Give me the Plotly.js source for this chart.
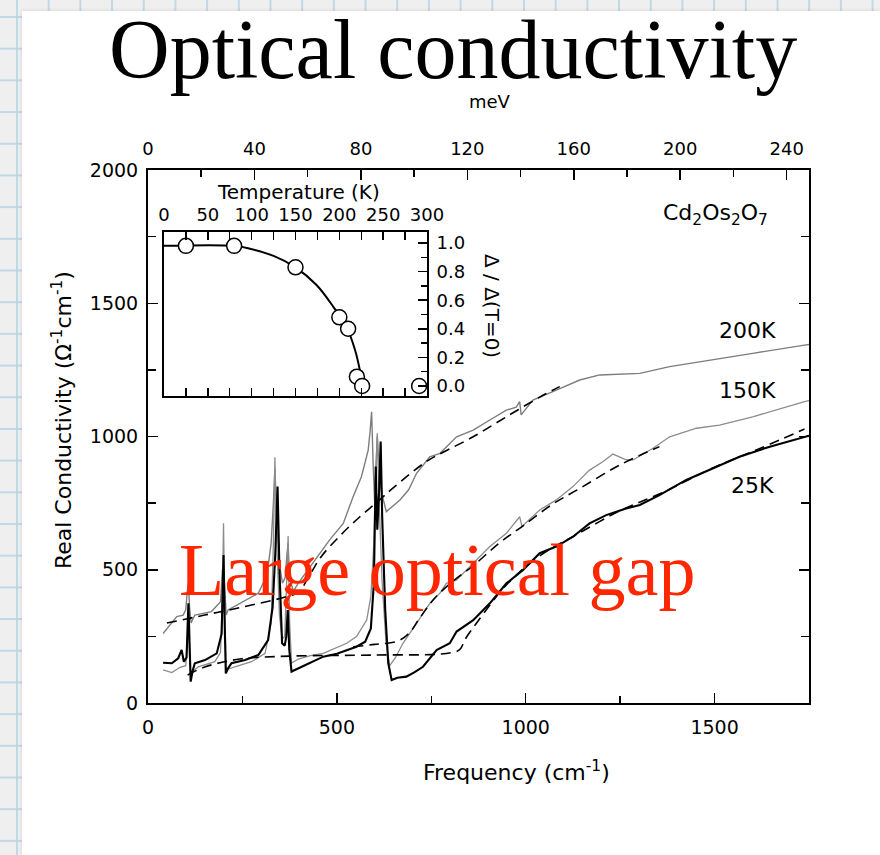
<!DOCTYPE html>
<html><head><meta charset="utf-8">
<script src="https://cdn.plot.ly/plotly-3.0.1.min.js"></script>
<style>
html,body{margin:0;padding:0;width:880px;height:855px;overflow:hidden;}
body{background-color:#efefef;
background-image:linear-gradient(to right, rgba(185,212,228,0.85) 2px, transparent 2px),linear-gradient(to bottom, rgba(185,212,228,0.85) 2px, transparent 2px);
background-size:31.7px 31.7px;background-position:16px 16px;}
#card{position:absolute;left:22px;top:11px;width:858px;height:844px;background:#fff;box-shadow:0 0 4px rgba(0,0,0,0.12);}
#chart{position:absolute;left:0;top:0;width:880px;height:855px;}
</style></head>
<body><div id="card"></div><div id="chart"></div>
<script>
// ---- data (frequency in cm^-1, conductivity in Ohm^-1 cm^-1) ----
const freq200 = [40,54,76,93,100,104,107,110,114,124,168,192,197,200,203,207,212,257,292,315,326,332,336,340,348,356,363,368,371,374,385,398,429,481,517,543,565,583,588,592,596,600,604,607,611,620,631,667,690,711,746,773,817,861,905,949,975,984,988,1019,1081,1143,1196,1266,1302,1381,1469,1601,1738,1750];
const sigma200 = [261,286,324,330,350,420,450,360,300,330,343,380,500,520,420,330,349,386,412,480,600,750,880,700,520,450,470,560,600,470,420,450,511,612,674,774,849,949,1020,1093,900,760,900,1000,900,780,718,762,800,862,924,937,999,1024,1062,1099,1110,1131,1081,1137,1174,1212,1231,1234,1237,1262,1281,1312,1343,1345];

const freq150 = [40,63,85,100,105,107,110,113,120,133,177,192,197,200,203,207,230,274,310,326,332,336,341,348,355,362,367,371,375,380,398,430,464,526,552,579,590,598,603,607,612,620,630,640,655,675,711,746,773,790,817,861,905,949,980,984,990,1037,1081,1125,1169,1204,1231,1266,1284,1337,1381,1452,1513,1601,1738,1750];
const sigma150 = [124,114,134,140,250,330,180,110,120,136,155,190,400,674,350,124,136,155,186,300,600,922,600,330,240,250,450,627,300,150,165,178,186,224,249,311,400,600,850,1012,750,450,230,140,170,224,299,374,412,449,462,524,587,637,690,699,662,724,762,812,874,905,934,912,912,956,999,1031,1043,1074,1131,1135];

const freq25 = [40,63,80,89,95,102,107,110,113,118,124,151,182,195,200,203,206,212,221,257,292,318,330,337,343,348,352,355,362,366,370,374,380,398,430,464,500,526,552,575,590,598,603,607,612,616,620,628,636,645,660,684,705,728,764,799,817,861,905,949,993,1037,1081,1125,1169,1213,1266,1302,1354,1425,1496,1566,1646,1738,1750];
const sigma25 = [151,149,168,199,155,170,374,250,80,120,149,161,186,260,555,300,111,130,149,161,180,236,361,560,812,500,300,224,215,250,349,200,118,130,150,174,185,199,211,230,280,450,887,650,800,981,700,350,150,86,95,99,115,136,199,224,268,311,374,449,499,562,587,624,674,705,730,743,780,837,881,924,962,999,1003];

// fits (dashed)
const fitFreq200 = [50,150,250,367,398,430,459,510,561,605,653,737,780,861,950,1040,1090];
const fitSigma200 = [300,330,360,399,415,485,550,630,699,752,812,906,940,999,1075,1150,1187];
const fitFreq150 = [543,600,660,690,720,760,810,861,930,993,1070,1143,1249,1354];
const fitSigma150 = [211,220,232,260,320,395,460,515,600,665,745,805,893,962];
const fitFreq25 = [105,150,243,376,600,790,825,840,870,950,1040,1130,1250,1360,1500,1620,1738];
const fitSigma25 = [105,135,165,176,180,186,200,240,300,445,555,628,722,788,885,955,1028];

// inset: gap ratio vs temperature
const insetT = [25,80,150,200,210,220,226,291];
const insetGap = [0.98,0.98,0.83,0.48,0.40,0.065,0.0,0.0];
const insetCurveT = [0,80,98,125,150,174,193,208,218,224,226];
const insetCurveGap = [0.98,0.98,0.96,0.91,0.83,0.706,0.555,0.415,0.25,0.09,0.0];

// tick labels
const freqTicks = [0,500,1000,1500];
const meVTicks = [0,40,80,120,160,200,240];
const sigmaTicks = [0,500,1000,1500,2000];
const tempTicks = [0,50,100,150,200,250,300];
const gapTicks = [0,0.2,0.4,0.6,0.8,1.0];

const traces = [
  {x:freq200, y:sigma200, mode:'lines', line:{color:'#7d7d7d', width:1.4}, hoverinfo:'skip'},
  {x:freq150, y:sigma150, mode:'lines', line:{color:'#8c8c8c', width:1.3}, hoverinfo:'skip'},
  {x:fitFreq200, y:fitSigma200, mode:'lines', line:{color:'#000', width:1.6, dash:'10px,6px', shape:'spline'}, hoverinfo:'skip'},
  {x:fitFreq150, y:fitSigma150, mode:'lines', line:{color:'#000', width:1.6, dash:'10px,6px', shape:'spline'}, hoverinfo:'skip'},
  {x:fitFreq25, y:fitSigma25, mode:'lines', line:{color:'#000', width:1.6, dash:'10px,6px', shape:'spline'}, hoverinfo:'skip'},
  {x:freq25, y:sigma25, mode:'lines', line:{color:'#000', width:2.1}, hoverinfo:'skip'},
  {x:[0], y:[-500], xaxis:'x2', yaxis:'y', mode:'markers', marker:{opacity:0}, hoverinfo:'skip'},
  {x:insetCurveT, y:insetCurveGap, xaxis:'x3', yaxis:'y3', mode:'lines', line:{color:'#000', width:2, shape:'spline'}, hoverinfo:'skip'},
  {x:insetT, y:insetGap, xaxis:'x3', yaxis:'y3', mode:'markers', marker:{symbol:'circle', size:15, color:'#fff', line:{color:'#000', width:1.5}}, hoverinfo:'skip', cliponaxis:false}
];

const axBase = {showgrid:false, zeroline:false, showline:true, linecolor:'#000', linewidth:2, ticks:'inside', tickcolor:'#000', tickwidth:1.5};
const mnt = (vals,len)=>({tickvals:vals, ticks:'inside', ticklen:len, tickwidth:1.5, tickcolor:'#000'});

const layout = {
  width:880, height:855,
  margin:{l:148, r:71, t:170, b:152},
  paper_bgcolor:'rgba(0,0,0,0)', plot_bgcolor:'rgba(0,0,0,0)',
  showlegend:false,
  font:{family:'DejaVu Sans', color:'#000'},
  xaxis:Object.assign({}, axBase, {range:[0,1750], tickmode:'array', tickvals:freqTicks, ticklen:10, tickfont:{size:19}, ticklabelstandoff:6, minor:mnt([250,750,1250],7)}),
  xaxis2:Object.assign({}, axBase, {overlaying:'x', side:'top', anchor:'y', range:[0,248.4], tickmode:'array', tickvals:meVTicks, ticklen:10, tickfont:{size:18}, ticklabelstandoff:6, minor:mnt([20,60,100,140,180,220],7)}),
  yaxis:Object.assign({}, axBase, {range:[0,2000], tickmode:'array', tickvals:sigmaTicks, ticklen:10, mirror:'ticks', tickfont:{size:19}, ticklabelstandoff:4, minor:mnt([250,750,1250,1750],8)}),
  xaxis3:Object.assign({}, axBase, {domain:[0.0242,0.4221], anchor:'y3', side:'top', range:[0,300], tickmode:'array', tickvals:tempTicks, ticklen:8, mirror:'ticks', tickfont:{size:18}, ticklabelstandoff:2, minor:mnt([25,75,125,175,225,275],8)}),
  yaxis3:Object.assign({}, axBase, {domain:[0.576,0.8837], anchor:'x3', side:'right', range:[-0.07,1.077], tickmode:'array', tickvals:gapTicks, tickformat:'.1f', ticklen:9, mirror:true, tickfont:{size:18}, ticklabelstandoff:4, minor:mnt([0.1,0.3,0.5,0.7,0.9],6)}),
  annotations:[
    {text:'Optical conductivity', xref:'paper', yref:'paper', x:0.462, y:1.226, xanchor:'center', yanchor:'middle', showarrow:false, font:{family:'Liberation Serif', size:84, color:'#000'}},
    {text:'meV', xref:'paper', yref:'paper', x:0.517, y:1.129, xanchor:'center', yanchor:'middle', showarrow:false, font:{size:18}},
    {text:'Frequency (cm<sup>-1</sup>)', xref:'paper', yref:'paper', x:0.558, y:-0.1276, xanchor:'center', yanchor:'middle', showarrow:false, font:{size:22}},
    {text:'Real Conductivity (Ω<sup>-1</sup>cm<sup>-1</sup>)', xref:'paper', yref:'paper', x:-0.130, y:0.531, xanchor:'center', yanchor:'middle', textangle:-90, showarrow:false, font:{size:22}},
    {text:'Cd<sub>2</sub>Os<sub>2</sub>O<sub>7</sub>', xref:'paper', yref:'paper', x:0.859, y:0.9156, xanchor:'center', yanchor:'middle', showarrow:false, font:{size:22}},
    {text:'200K', xref:'paper', yref:'paper', x:0.9077, y:0.6998, xanchor:'center', yanchor:'middle', showarrow:false, font:{size:22}},
    {text:'150K', xref:'paper', yref:'paper', x:0.9077, y:0.587, xanchor:'center', yanchor:'middle', showarrow:false, font:{size:22}},
    {text:'25K', xref:'paper', yref:'paper', x:0.915, y:0.409, xanchor:'center', yanchor:'middle', showarrow:false, font:{size:22}},
    {text:'Temperature (K)', xref:'paper', yref:'paper', x:0.2284, y:0.959, xanchor:'center', yanchor:'middle', showarrow:false, font:{size:20}},
    {text:'Δ / Δ(T=0)', xref:'paper', yref:'paper', x:0.5204, y:0.7448, xanchor:'center', yanchor:'middle', textangle:90, showarrow:false, font:{size:20}},
    {text:'Large optical gap', xref:'paper', yref:'paper', x:0.437, y:0.2495, xanchor:'center', yanchor:'middle', showarrow:false, font:{family:'Liberation Serif', size:74, color:'#ff2600'}}
  ]
};

Plotly.newPlot('chart', traces, layout, {displayModeBar:false, staticPlot:true});
</script></body></html>
